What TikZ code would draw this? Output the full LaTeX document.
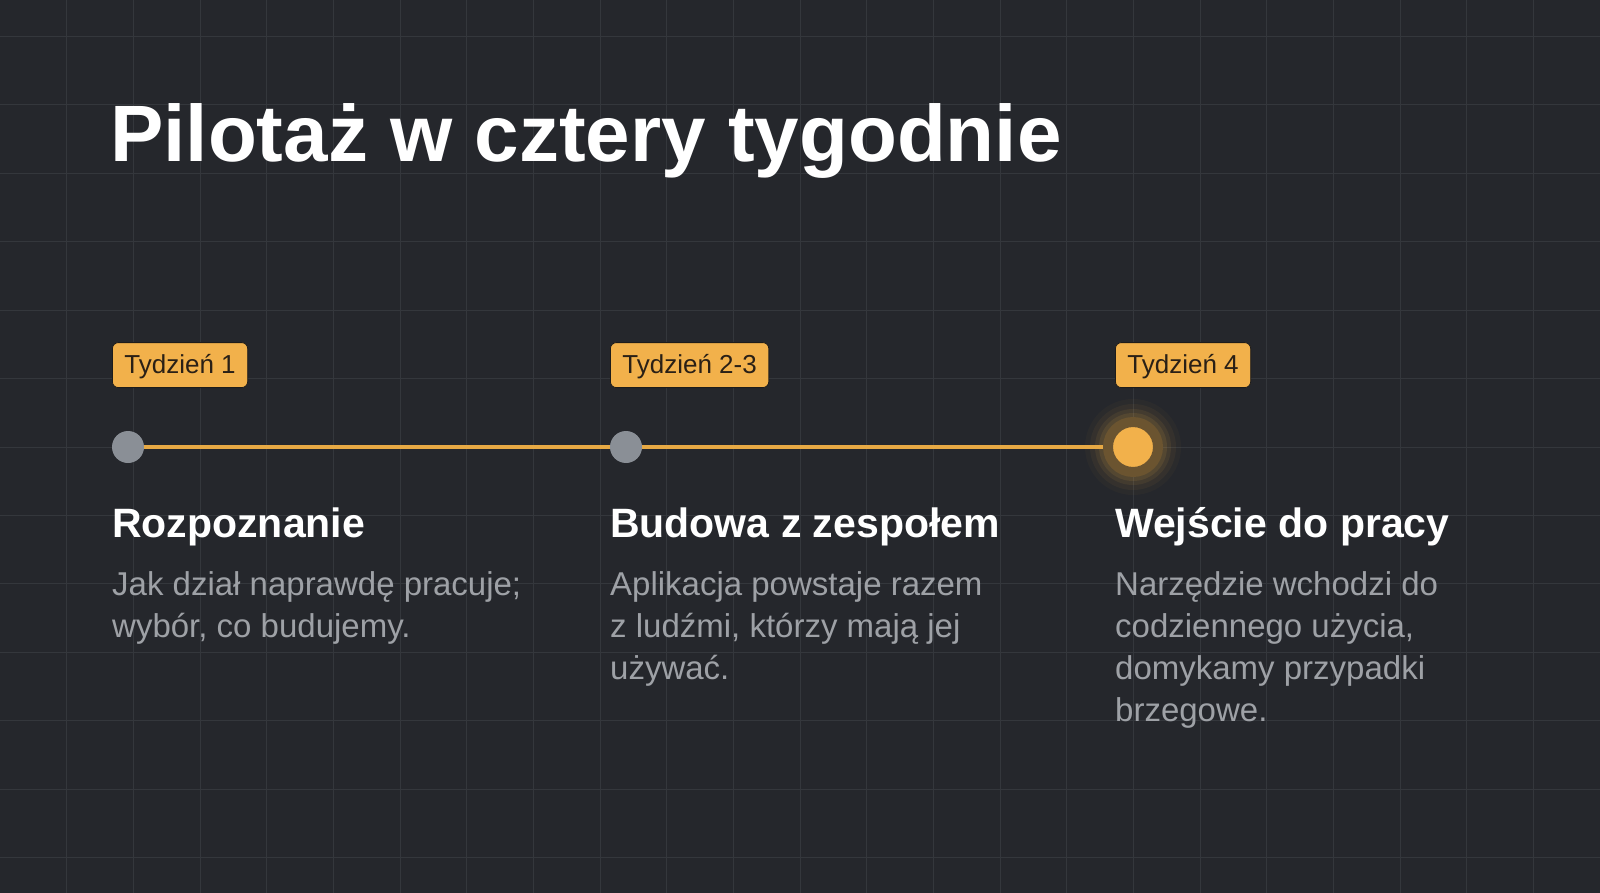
\documentclass[tikz,border=0pt]{standalone}
\usepackage{fontspec}
\setmainfont{Liberation Sans}
\usetikzlibrary{positioning}

\definecolor{bg}{HTML}{25272C}
\definecolor{gridcol}{HTML}{34373C}
\definecolor{amber}{HTML}{F2B14B}
\definecolor{lineamber}{HTML}{E7A944}
\definecolor{ring}{HTML}{6B5430}
\definecolor{dotgray}{HTML}{8A8F96}
\definecolor{descgray}{HTML}{9EA1A6}
\definecolor{badgetext}{HTML}{2A2016}
\definecolor{badgeedge}{HTML}{1E1C1A}

\begin{document}
\begin{tikzpicture}[x=1pt, y=-1pt,
  badge/.style={rectangle, rounded corners=6pt, fill=amber, draw=badgeedge, line width=0.8pt, text=badgetext, font=\fontsize{26}{30}\selectfont, inner xsep=12pt, inner ysep=0pt, minimum height=45pt, text height=19pt, text depth=3pt},
  heading/.style={text=white, font=\bfseries\fontsize{41}{48}\selectfont, inner sep=0pt},
  desc/.style={text=descgray, font=\fontsize{33}{42}\selectfont, align=left, inner sep=0pt},
  dotdone/.style={circle, fill=dotgray, minimum size=32pt, inner sep=0pt},
  dotnow/.style={circle, fill=amber, draw=ring, line width=10pt, minimum size=50pt, inner sep=0pt},
  gridline/.style={draw=gridcol, line width=1pt},
  timeline/.style={draw=lineamber, line width=4pt}]

% Background and grid
\fill[bg] (0,0) rectangle (1600,893);
\useasboundingbox (0,0) rectangle (1600,893);
\foreach \i in {1,...,23}
  \draw[gridline] (\i*66.667,0) -- (\i*66.667,893);
\foreach \j in {0,...,12}
  \draw[gridline] (0,36.6+\j*68.4) -- (1600,36.6+\j*68.4);

% Title
\node (title) [anchor=base west, text=white, font=\bfseries\fontsize{80}{90}\selectfont, inner sep=0pt] at (110,162) {Pilotaż w cztery tygodnie};

% Badges
\node (week1) [badge, anchor=south west] at (112,388) {Tydzień 1};
\node (week2) [badge, anchor=south west] at (610,388) {Tydzień 2-3};
\node (week3) [badge, anchor=south west] at (1115,388) {Tydzień 4};

% Dots
\coordinate (now) at (1133,447);
\foreach \r/\o in {48/0.03, 43/0.05, 38/0.08, 34/0.10}
  \fill[amber, opacity=\o] (now) circle (\r pt);
\node (dot1) [dotdone] at (128,447) {};
\node (dot2) [dotdone] at (626,447) {};
\node (dot3) [dotnow] at (now) {};

% Line
\draw[timeline] (dot1) -- (dot2);
\draw[timeline] (dot2) -- (dot3);

% Headings
\node (head1) [heading, below=149pt of week1.south west, anchor=base west] {Rozpoznanie};
\node (head2) [heading, below=149pt of week2.south west, anchor=base west] {Budowa z zespołem};
\node (head3) [heading, below=149pt of week3.south west, anchor=base west] {Wejście do pracy};

% Descriptions
\node (desc1) [desc, below=34pt of head1.base west, anchor=north west] {Jak dział naprawdę pracuje;\\wybór, co budujemy.};
\node (desc2) [desc, below=34pt of head2.base west, anchor=north west] {Aplikacja powstaje razem\\z ludźmi, którzy mają jej\\używać.};
\node (desc3) [desc, below=34pt of head3.base west, anchor=north west] {Narzędzie wchodzi do\\codziennego użycia,\\domykamy przypadki\\brzegowe.};

\end{tikzpicture}
\end{document}
